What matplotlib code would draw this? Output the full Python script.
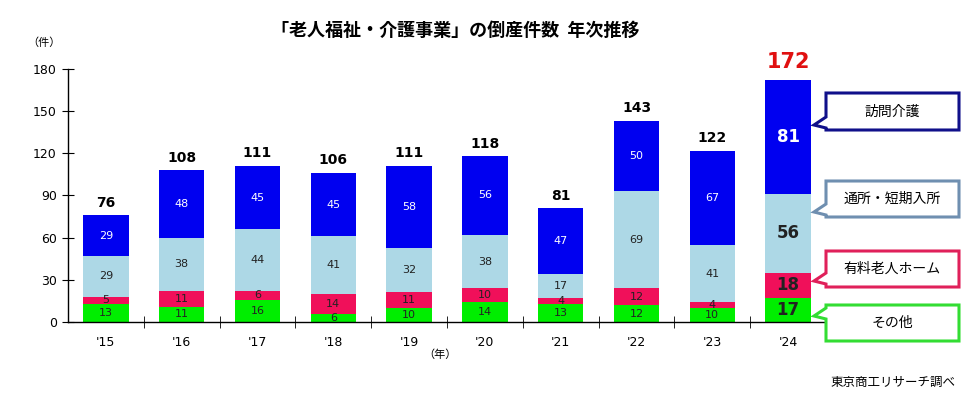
import matplotlib.pyplot as plt
import numpy as np
from matplotlib.patches import Polygon

plt.rcParams['font.family'] = ['DejaVu Sans', 'Noto Sans CJK JP']
JP = ['Noto Sans CJK JP', 'DejaVu Sans']

# data
years = ["'15", "'16", "'17", "'18", "'19", "'20", "'21", "'22", "'23", "'24"]
sonota = [13, 11, 16, 6, 10, 14, 13, 12, 10, 17]
yuryo = [5, 11, 6, 14, 11, 10, 4, 12, 4, 18]
tsusho = [29, 38, 44, 41, 32, 38, 17, 69, 41, 56]
homon = [29, 48, 45, 45, 58, 56, 47, 50, 67, 81]
totals = [76, 108, 111, 106, 111, 118, 81, 143, 122, 172]

series = [
    ('その他', sonota, '#00ee00', '#222222', '#33dd33'),
    ('有料老人ホーム', yuryo, '#f0105a', '#222222', '#e0205a'),
    ('通所・短期入所', tsusho, '#add8e6', '#222222', '#6f8fb0'),
    ('訪問介護', homon, '#0000f0', 'white', '#10108a'),
]

W, H = 978, 398
fig = plt.figure(figsize=(W / 100, H / 100), dpi=100)
ax = fig.add_axes([68 / W, 1 - 322 / H, (826 - 68) / W, (322 - 69) / H])

x = np.arange(len(years))
bottom = np.zeros(len(years))
for name, vals, col, tcol, _ in series:
    vals = np.array(vals)
    ax.bar(x, vals, 0.6, bottom=bottom, color=col, zorder=2)
    for i, v in enumerate(vals):
        last = i == len(years) - 1
        ax.text(x[i], bottom[i] + v / 2, str(v), ha='center', va='center',
                fontsize=12 if last else 8, fontweight='bold' if last else 'normal',
                color=tcol, zorder=3)
    bottom += vals

for i, t in enumerate(totals):
    last = i == len(years) - 1
    ax.text(x[i], t + (6 if last else 4), str(t), ha='center', va='bottom',
            fontsize=15 if last else 10, fontweight='bold',
            color='#e01010' if last else 'black')

ax.set_xlim(-0.5, len(years) - 0.5)
ax.set_ylim(0, 180)
ax.set_yticks(range(0, 181, 30))
ax.set_xticks(x)
ax.set_xticklabels(years)
ax.set_xticks(np.arange(0.5, len(years) - 0.5), minor=True)
ax.tick_params(axis='x', which='major', length=0, pad=10, labelsize=9)
ax.tick_params(axis='x', which='minor', direction='inout', length=8)
ax.tick_params(axis='y', direction='inout', length=8, labelsize=9, pad=4)
for s in ['top', 'right']:
    ax.spines[s].set_visible(False)
ax.spines['left'].set_linewidth(1)
ax.spines['bottom'].set_linewidth(1)

fig.text(455 / W, 1 - 30 / H, '「老人福祉・介護事業」の倒産件数  年次推移', ha='center',
         va='center', fontsize=13, fontweight='bold', family=JP)
fig.text(44 / W, 1 - 43 / H, '（件）', ha='center', va='center', fontsize=8, family=JP)
fig.text(440 / W, 1 - 355 / H, '（年）', ha='center', va='center', fontsize=8, family=JP)
fig.text(955 / W, 1 - 382 / H, '東京商工リサーチ調べ', ha='right', va='center',
         fontsize=9, family=JP)


def fp(px, py):
    return (px / W, 1 - py / H)


# callouts: (top, bottom, tip_y)
boxes = [(305, 341, 316), (251, 287, 281), (181, 217, 212), (93, 130, 125)]
for (name, _, _, _, ecol), (yt, yb, tip) in zip(series, boxes):
    x0, x1 = 826, 959
    pts = [fp(x0, yt), fp(x1, yt), fp(x1, yb), fp(x0, yb),
           fp(x0, tip + 3), fp(814, tip), fp(x0, tip - 8)]
    fig.patches.append(Polygon(pts, closed=True, transform=fig.transFigure,
                               facecolor='white', edgecolor=ecol, linewidth=2.2))
    fig.text((x0 + x1) / 2 / W, 1 - (yt + yb) / 2 / H, name, ha='center',
             va='center', fontsize=10, family=JP)

fig.savefig('out.png', dpi=100)
